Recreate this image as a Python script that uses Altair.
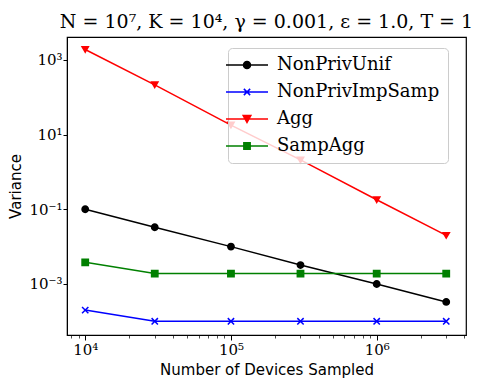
import altair as alt
import pandas as pd

# ---- data ----
x_vals = [1e4, 3e4, 1e5, 3e5, 1e6, 3e6]
series_names = ["NonPrivUnif", "NonPrivImpSamp", "Agg", "SampAgg"]
non_priv_unif = [0.1, 0.033, 0.01, 0.0032, 0.001, 0.00033]
non_priv_imp_samp = [2.0e-4, 1.0e-4, 1.0e-4, 1.0e-4, 1.0e-4, 1.0e-4]
agg = [1900, 215, 18, 2.1, 0.18, 0.02]
samp_agg = [0.0038, 0.0019, 0.0019, 0.0019, 0.0019, 0.0019]
colors = ["#000000", "#0000ff", "#ff0000", "#008000"]
shapes = ["circle", "M-1,-1L1,1M-1,1L1,-1", "triangle-down", "square"]
# legend glyphs: a line with the marker in its middle
legend_shapes = [
    "M-3,0H3M0.5,0A0.5,0.5 0 1 1 -0.5,0A0.5,0.5 0 1 1 0.5,0Z",
    "M-3,0H3M-0.45,-0.45L0.45,0.45M-0.45,0.45L0.45,-0.45",
    "M-3,0H3M-0.55,-0.5L0.55,-0.5L0,0.5Z",
    "M-3,0H3M-0.45,-0.45H0.45V0.45H-0.45Z",
]
x_tick_values = [8e3, 9e3, 1e4, 2e4, 3e4, 4e4, 5e4, 6e4, 7e4, 8e4, 9e4,
                 1e5, 2e5, 3e5, 4e5, 5e5, 6e5, 7e5, 8e5, 9e5,
                 1e6, 2e6, 3e6, 4e6]
y_tick_values = [1e-3, 1e-1, 1e1, 1e3]
title_text = "N = 10⁷, K = 10⁴, γ = 0.001, ε = 1.0, T = 1"

rows = []
for name, vals in zip(series_names, [non_priv_unif, non_priv_imp_samp, agg, samp_agg]):
    for xv, yv in zip(x_vals, vals):
        rows.append({"devices": xv, "variance": yv, "series": name})
df = pd.DataFrame(rows)

LOG = "(log(datum.value)/LN10)"
POW = f"abs({LOG} - round({LOG})) < 0.01"
EXP = f"round({LOG})"
LABEL = (f"({POW}) ? '10' + ({EXP} < 0 ? '⁻' : '') + "
         f"['⁰','¹','²','³','⁴','⁵','⁶','⁷','⁸','⁹'][abs({EXP})] : ''")

x_enc = alt.X("devices:Q",
              scale=alt.Scale(type="log", domain=[7.5e3, 4.1e6], nice=False),
              axis=alt.Axis(title="Number of Devices Sampled", values=x_tick_values,
                            labelExpr=LABEL, grid=False,
                            tickSize={"condition": {"test": POW, "value": 5}, "value": 3},
                            tickWidth={"condition": {"test": POW, "value": 1}, "value": 0.7},
                            labelFont="DejaVu Serif", labelFontSize=15, labelColor="black",
                            titleFont="DejaVu Sans", titleFontSize=15, titleFontWeight="normal",
                            titleColor="black", domainColor="black", tickColor="black",
                            labelPadding=2, titlePadding=5, labelFlush=False))
y_enc = alt.Y("variance:Q",
              scale=alt.Scale(type="log", domain=[4.3e-5, 4.1e3], nice=False),
              axis=alt.Axis(title="Variance", values=y_tick_values, labelExpr=LABEL,
                            grid=False, tickSize=4, labelFont="DejaVu Serif", labelFontSize=15,
                            labelColor="black", titleFont="DejaVu Sans", titleFontSize=15,
                            titleFontWeight="normal", titleColor="black",
                            domainColor="black", tickColor="black", labelPadding=1,
                            titlePadding=5, labelFlush=False))

lines = alt.Chart(df).mark_line(strokeWidth=1.5).encode(
    x=x_enc, y=y_enc,
    color=alt.Color("series:N", scale=alt.Scale(domain=series_names, range=colors),
                    sort=series_names, legend=None),
)

points = alt.Chart(df).mark_point(filled=False, size=40, strokeWidth=1.5, opacity=1).encode(
    x=x_enc, y=y_enc,
    stroke=alt.Stroke("series:N", scale=alt.Scale(domain=series_names, range=colors),
                      sort=series_names, legend=None),
    fill=alt.Fill("series:N", scale=alt.Scale(domain=series_names, range=colors),
                  sort=series_names, legend=None),
    shape=alt.Shape("series:N", scale=alt.Scale(domain=series_names, range=shapes),
                    sort=series_names, legend=None),
)

legend_props = dict(orient="none", legendX=161, legendY=11, title=None,
                    symbolSize=196, symbolStrokeWidth=1.5, symbolOffset=2,
                    labelFont="DejaVu Serif", labelFontSize=18, labelColor="black",
                    labelOffset=21, padding=8, rowPadding=9, strokeColor="#cccccc",
                    fillColor="rgba(255,255,255,0.8)", cornerRadius=4, labelLimit=400)

legend_layer = alt.Chart(df).transform_filter("false").mark_point(
    filled=False, size=196, strokeWidth=1.5, opacity=1
).encode(
    x=x_enc, y=y_enc,
    stroke=alt.Stroke("series:N", scale=alt.Scale(domain=series_names, range=colors),
                      sort=series_names, legend=alt.Legend(**legend_props)),
    fill=alt.Fill("series:N", scale=alt.Scale(domain=series_names, range=colors),
                  sort=series_names, legend=alt.Legend(**legend_props)),
    shape=alt.Shape("series:N", scale=alt.Scale(domain=series_names, range=legend_shapes),
                    sort=series_names, legend=alt.Legend(**legend_props)),
)

chart = alt.layer(lines, points, legend_layer).resolve_scale(
    color="independent", stroke="independent", fill="independent", shape="independent"
).properties(
    width=399, height=298,
    padding={"left": 0, "top": 5, "right": 5, "bottom": 5},
    title=alt.TitleParams(title_text, font="DejaVu Serif", fontSize=19,
                          fontWeight="normal", color="black", anchor="middle", offset=5),
).configure_view(stroke="black", strokeWidth=1.2)

chart.save("out.html", embed_options={"renderer": "svg", "actions": False})
